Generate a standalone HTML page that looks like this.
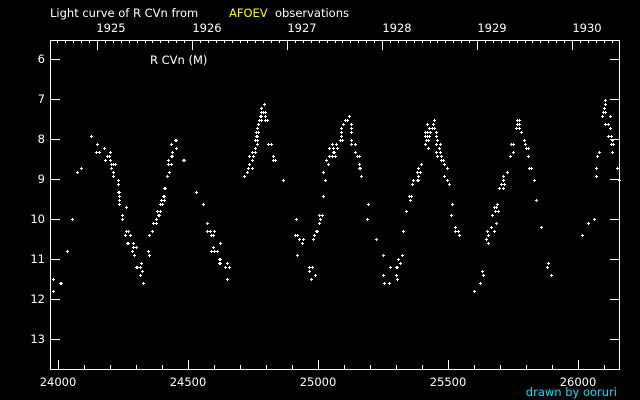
<!DOCTYPE html>
<html><head><meta charset="utf-8"><style>
html,body{margin:0;padding:0;background:#000;}
svg{display:block}
text{font-family:"DejaVu Sans","Liberation Sans",sans-serif;font-size:11.5px;fill:#fff}
</style></head><body>
<svg id="s" width="640" height="400" viewBox="0 0 640 400" xmlns="http://www.w3.org/2000/svg">
<rect width="640" height="400" fill="#000"/>
<text x="50" y="17">Light curve of R CVn from</text>
<text x="229" y="17" style="fill:#ffff00">AFOEV</text>
<text x="275" y="17">observations</text>
<g text-anchor="middle">
<text x="111" y="32">1925</text><text x="207" y="32">1926</text><text x="302" y="32">1927</text>
<text x="397" y="32">1928</text><text x="492" y="32">1929</text><text x="587" y="32">1930</text>
<text x="58" y="386">24000</text><text x="188" y="386">24500</text><text x="318" y="386">25000</text>
<text x="448" y="386">25500</text><text x="578" y="386">26000</text>
</g>
<g text-anchor="end">
<text x="45" y="63">6</text><text x="45" y="103">7</text><text x="45" y="143">8</text><text x="45" y="183">9</text>
<text x="45" y="223">10</text><text x="45" y="263">11</text><text x="45" y="303">12</text><text x="45" y="343">13</text>
</g>
<text x="150" y="64">R CVn (M)</text>
<text x="617" y="396" text-anchor="end" style="fill:#00e0ff">drawn by ooruri</text>
<rect x="50.5" y="40.5" width="569" height="329" fill="none" stroke="#fff" stroke-width="1"/>
<path id="ticks" stroke="#fff" stroke-width="1" fill="none" d=""/>
<path id="pts" stroke="#fff" stroke-width="1" fill="none" d=""/>
</svg>
<script>
var d="";
for(var m=6;m<=13;m++){var y=59+(m-6)*40+0.5;d+="M50 "+y+"h10M610 "+y+"h10";}
for(var v=24000;v<=26100;v+=100){var x=Math.round(58+(v-24000)*0.26)+0.5;if(x<51||x>619)continue;d+="M"+x+" 370v"+(v%500==0?-10:-5);}
for(var k=-12;k<100;k++){var x=Math.round(97+k*95/12)+0.5;if(x<51||x>619)continue;d+="M"+x+" 40v"+(k%12==0?10:3);}
document.getElementById("ticks").setAttribute("d",d);
var P=[[53,279],[60,283],[61,283],[53,291],[67,251],[72,219],[77,172],[81,168],[91,136],[97,144],[96,152],[99,152],[104,148],[110,152],[107,156],[109,156],[105,160],[110,160],[111,164],[113,164],[115,164],[111,168],[113,172],[113,176],[118,180],[118,184],[118,192],[119,192],[119,196],[119,200],[119,204],[126,207],[122,215],[122,219],[126,231],[128,231],[125,235],[130,235],[127,243],[128,243],[133,243],[133,247],[136,247],[132,251],[134,255],[141,263],[136,267],[137,267],[140,267],[142,271],[140,275],[143,283],[148,251],[149,255],[149,235],[152,231],[153,223],[156,223],[156,219],[158,215],[159,215],[157,211],[160,211],[160,204],[162,204],[161,200],[164,200],[163,196],[164,196],[164,188],[165,188],[167,176],[169,172],[168,164],[171,164],[168,160],[171,156],[172,156],[172,152],[176,148],[171,144],[175,140],[176,140],[183,160],[184,160],[196,192],[203,204],[207,223],[207,231],[210,231],[214,231],[211,235],[213,235],[220,243],[213,247],[211,251],[214,251],[217,251],[219,259],[220,259],[219,263],[220,263],[227,263],[225,267],[229,267],[227,279],
[244,176],[247,172],[249,164],[248,168],[252,168],[252,160],[249,156],[253,156],[252,152],[255,152],[255,148],[255,140],[257,140],[257,144],[256,136],[257,136],[256,132],[258,132],[257,128],[258,124],[259,120],[261,120],[260,116],[261,116],[265,116],[265,120],[267,120],[261,112],[263,112],[265,112],[261,108],[264,104],[268,144],[271,144],[273,156],[273,160],[275,160],[283,180],
[296,219],[295,235],[297,235],[299,239],[303,239],[302,243],[297,255],[309,267],[312,267],[309,271],[315,275],[311,279],[313,239],[314,235],[316,231],[317,231],[319,223],[320,219],[319,215],[322,215],[323,196],[325,180],[323,172],[328,164],[326,160],[329,156],[332,156],[335,156],[333,152],[334,152],[333,148],[337,148],[329,148],[332,144],[336,144],[340,140],[342,140],[341,136],[341,132],[341,128],[343,124],[345,120],[347,120],[349,116],[351,124],[351,128],[351,132],[351,140],[351,144],[355,144],[355,152],[357,156],[359,156],[359,164],[359,168],[360,168],[361,176],[368,204],[367,219],[376,239],[383,255],[390,267],[383,275],[384,283],[389,283],[396,267],[397,267],[396,275],[397,279],[398,259],[400,263],[402,255],[403,231],[406,211],[410,200],[409,196],[411,196],[412,184],[413,180],[417,180],[418,180],[418,176],[417,172],[420,172],[418,168],[421,164],[425,144],[428,148],[425,136],[427,136],[429,136],[425,132],[427,132],[430,132],[429,128],[432,128],[434,128],[427,124],[433,124],[434,120],[426,140],[428,140],[436,132],[436,136],[437,140],[436,144],[440,144],[439,148],[436,152],[440,152],[437,156],[441,156],[441,160],[443,160],[444,164],[447,168],[444,176],[447,180],[449,184],[452,204],[451,215],[455,227],[455,231],[458,231],[459,235],
[474,291],[480,283],[482,271],[483,275],[486,239],[488,243],[487,231],[488,235],[491,227],[494,231],[492,215],[496,223],[494,207],[496,207],[495,211],[498,211],[497,204],[499,188],[503,188],[501,184],[504,184],[503,180],[503,176],[507,172],[510,156],[513,152],[511,144],[513,144],[516,128],[519,128],[517,124],[519,124],[517,120],[519,120],[521,132],[524,140],[525,144],[526,148],[528,148],[528,156],[529,168],[531,168],[534,180],[536,200],[541,227],[548,263],[547,267],[551,275],[582,235],[588,223],[594,219],[596,176],[596,168],[597,156],[599,152],[612,152],[617,168],[619,180],[611,144],[613,144],[608,136],[611,136],[612,140],[610,128],[605,124],[608,124],[602,116],[610,116],[603,112],[605,112],[604,108],[605,104],[605,100]];
var q="";
P.forEach(function(p){var x=p[0],y=p[1];q+="M"+(x-1)+" "+(y+0.5)+"h3M"+(x+0.5)+" "+(y-1)+"v3";});
document.getElementById("pts").setAttribute("d",q);
</script>
</body></html>
